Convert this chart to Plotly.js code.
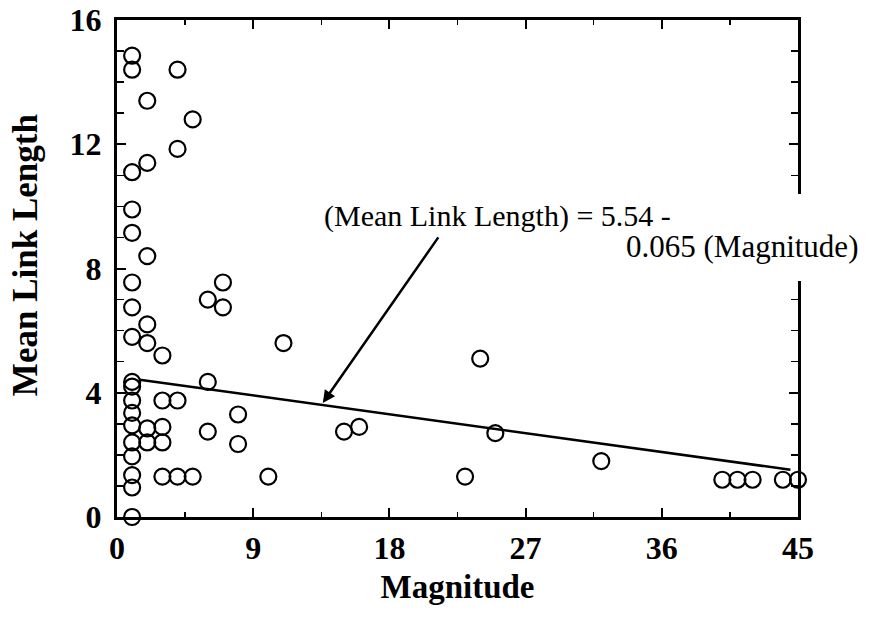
<!DOCTYPE html>
<html>
<head>
<meta charset="utf-8">
<script src="https://cdn.plot.ly/plotly-3.0.1.min.js"></script>
<style>html,body{margin:0;padding:0;background:#fff;}#chart{width:871px;height:624px;}</style>
</head>
<body>
<div id="chart"></div>
<script>
// Observations: magnitude vs mean link length
const magnitude = [
  1,1,1,1,1,1,1,1,1,1,1,1,1,1,1,1,1,1,
  2,2,2,2,2,2,2,
  3,3,3,3,3,
  4,4,4,4,
  5,5,
  6,6,6,
  7,7,
  8,8,
  10,11,15,16,23,24,25,32,
  40,41,42,44,45
];
const meanLinkLength = [
  14.85,14.4,11.1,9.9,9.15,7.55,6.75,5.8,4.35,4.2,3.75,3.35,2.95,2.4,1.95,1.35,0.95,0,
  13.4,11.4,8.4,6.2,5.6,2.85,2.4,
  5.2,3.75,2.9,2.4,1.3,
  14.4,11.85,3.75,1.3,
  12.8,1.3,
  7.0,4.35,2.75,
  7.55,6.75,
  3.3,2.35,
  1.3,5.6,2.75,2.9,1.3,5.1,2.7,1.8,
  1.2,1.2,1.2,1.2,1.2
];
// Regression line as drawn
const fitX = [1.5, 44.5];
const fitY = [4.42, 1.52];
// Arrow (tail -> head) in data units
const arrowTail = [21.3, 9.05];
const arrowHead = [13.6, 3.67];
const eqLine1 = "(Mean Link Length) = 5.54 -";
const eqLine2 = "0.065 (Magnitude)";
const xTitle = "Magnitude";
const yTitle = "Mean Link Length";
const xTicks = [0, 9, 18, 27, 36, 45];
const yTicks = [0, 4, 8, 12, 16];

const serif = "'Liberation Serif', 'Times New Roman', serif";

const traces = [
  {x: fitX, y: fitY, mode: 'lines', type: 'scatter',
   line: {color: '#000', width: 2.5}, hoverinfo: 'skip', showlegend: false, cliponaxis: false},
  {x: magnitude, y: meanLinkLength, mode: 'markers', type: 'scatter',
   marker: {symbol: 'circle-open', size: 16, color: '#000', line: {width: 2.2, color: '#000'}},
   showlegend: false, cliponaxis: false}
];

const axisCommon = {
  showgrid: false, zeroline: false, showline: true, linecolor: '#000', linewidth: 3,
  mirror: 'allticks', ticks: 'inside', ticklen: 9, tickwidth: 2, tickcolor: '#000',
  tickfont: {family: serif, size: 32, color: '#000', weight: 'bold'}
};

const layout = {
  width: 871, height: 624,
  margin: {l: 117, r: 73, t: 20, b: 107},
  paper_bgcolor: '#fff', plot_bgcolor: '#fff',
  showlegend: false,
  xaxis: Object.assign({}, axisCommon, {
    range: [0, 45], tickvals: xTicks, ticktext: xTicks.map(String),
    ticklabelstandoff: 1,
    minor: {dtick: 4.5, tick0: 0, ticks: 'inside', ticklen: 5, tickwidth: 1.5, tickcolor: '#000'},
    title: {text: xTitle, font: {family: serif, size: 33, color: '#000', weight: 'bold'}, standoff: 10}
  }),
  yaxis: Object.assign({}, axisCommon, {
    range: [0, 16], tickvals: yTicks, ticktext: yTicks.map(String),
    ticklabelstandoff: 6,
    minor: {dtick: 1, tick0: 0, ticks: 'inside', ticklen: 7, tickwidth: 1.5, tickcolor: '#000'}
  }),
  shapes: [
    {type: 'rect', xref: 'paper', yref: 'paper', x0: 0.985, x1: 1.02, y0: 0.475, y1: 0.65,
     fillcolor: '#fff', line: {width: 0}, layer: 'above'}
  ],
  annotations: [
    {xref: 'x', yref: 'y', axref: 'x', ayref: 'y', x: arrowHead[0], y: arrowHead[1],
     ax: arrowTail[0], ay: arrowTail[1], text: '', showarrow: true,
     arrowhead: 2, arrowsize: 1, arrowwidth: 2.5, arrowcolor: '#000'},
    {xref: 'paper', yref: 'paper', x: 0.301, y: 0.6056, xanchor: 'left', yanchor: 'middle',
     text: eqLine1, showarrow: false, font: {family: serif, size: 30, color: '#000'}},
    {xref: 'paper', yref: 'paper', x: 0.745, y: 0.545, xanchor: 'left', yanchor: 'middle',
     text: eqLine2, showarrow: false, font: {family: serif, size: 31, color: '#000'}},
    {xref: 'paper', yref: 'paper', x: -0.135, y: 0.527, xanchor: 'center', yanchor: 'middle',
     textangle: -90, text: yTitle, showarrow: false,
     font: {family: serif, size: 35, color: '#000', weight: 'bold'}}
  ]
};

Plotly.newPlot('chart', traces, layout, {displayModeBar: false, staticPlot: true});
</script>
</body>
</html>
